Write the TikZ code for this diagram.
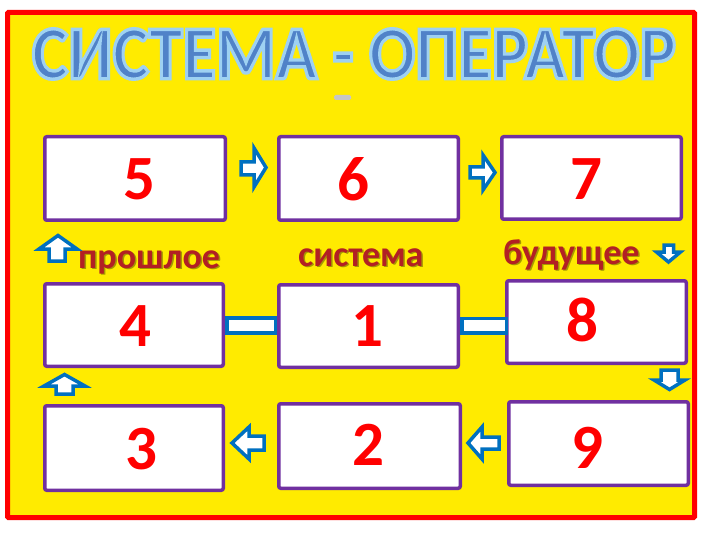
\documentclass[tikz,border=0pt]{standalone}
\usepackage{fontspec}
\usepackage{graphicx}
\setmainfont{Carlito}
\usetikzlibrary{calc}
\definecolor{bgyellow}{RGB}{255,235,0}
\definecolor{framered}{RGB}{255,0,0}
\definecolor{boxpurple}{RGB}{112,48,160}
\definecolor{arrowblue}{RGB}{0,112,192}
\definecolor{titleblue}{RGB}{80,130,200}
\definecolor{labelred}{RGB}{178,32,36}
\definecolor{numred}{RGB}{255,0,0}
\newcommand\outlinedtitle{\special{pdf:literal direct 2 Tr 0.45 w 0.62 0.82 0.95 RG}\resizebox{644pt}{50pt}{\bfseries СИСТЕМА - ОПЕРАТОР}\special{pdf:literal direct 0 Tr}}
\tikzset{
  box/.style={draw=boxpurple, line width=3.5pt, fill=white, rounded corners=2pt, inner sep=0pt},
  num/.style={text=numred, font=\fontsize{63}{63}\selectfont\bfseries, inner sep=0pt},
  lbl/.style={text=labelred, font=\fontsize{36}{36}\selectfont\bfseries, inner sep=0pt},
  lblshadow/.style={text=black, opacity=0.35, font=\fontsize{36}{36}\selectfont\bfseries, inner sep=0pt},
  blockarrow/.style={draw=arrowblue, line width=3.5pt, fill=white, line join=miter},
  ttl/.style={inner sep=0pt}
}
\begin{document}
\begin{tikzpicture}[x=1pt,y=-1pt]
\useasboundingbox (0,0) rectangle (720,540);
\fill[white] (0,0) rectangle (720,540);
% frame
\draw[framered, line width=5pt, fill=bgyellow, rounded corners=1pt] (7.5,12.5) rectangle (694.5,517.5);
% title
\node[ttl, text=titleblue] (title) at (354,54) {\outlinedtitle};
\fill[gray!45, rounded corners=1.5pt] (334,95) rectangle (351,100);
% boxes
\node[box, minimum width=180.5pt, minimum height=83.5pt] (b5) at (135,178.5) {};
\node[box, minimum width=179.5pt, minimum height=83.5pt] (b6) at (368.5,178.5) {};
\node[box, minimum width=179.5pt, minimum height=82.5pt] (b7) at (591.5,178) {};
\node[box, minimum width=178.5pt, minimum height=82.5pt] (b4) at (134,325) {};
\node[box, minimum width=179.5pt, minimum height=82.5pt] (b1) at (368.5,326) {};
\node[box, minimum width=179.5pt, minimum height=82.5pt] (b8) at (596.5,322) {};
\node[box, minimum width=178.5pt, minimum height=84.5pt] (b3) at (134,448) {};
\node[box, minimum width=181.5pt, minimum height=84.5pt] (b2) at (369.5,446) {};
\node[box, minimum width=179.5pt, minimum height=83.5pt] (b9) at (598.5,443.5) {};
% numbers
\node[num] (n5) at (139,179.5) {5};
\node[num] (n6) at (353,179.5) {6};
\node[num] (n7) at (586.5,179) {7};
\node[num] (n4) at (135,326.5) {4};
\node[num] (n1) at (367,326.5) {1};
\node[num] (n8) at (582.5,320) {8};
\node[num] (n3) at (141.5,449) {3};
\node[num] (n2) at (368.5,445) {2};
\node[num] (n9) at (587,448) {9};
% labels
\node[lblshadow, anchor=base west] (lps) at (79.5,269.5) {прошлое};
\node[lbl, anchor=base west] (lp) at (78,268) {прошлое};
\node[lblshadow, anchor=base west] (lss) at (299.5,267.5) {система};
\node[lbl, anchor=base west] (ls) at (298,266) {система};
\node[lblshadow, anchor=base west] (lbs) at (504.5,265.5) {будущее};
\node[lbl, anchor=base west] (lb) at (503,264) {будущее};
% bars
\draw[blockarrow] ($(b4.east)+(1.75,-7)$) rectangle ($(b1.west |- b4.east)+(-1.75,8)$);
\draw[blockarrow] ($(b1.east)+(1.75,-7.5)$) rectangle ($(b8.west |- b1.east)+(1.5,7)$);
% block arrows
\draw[blockarrow] (241,162) -- (254,162) -- (254,148) -- (266,167.5) -- (254,187) -- (254,175) -- (241,175) -- cycle;
\draw[blockarrow] (470,167) -- (483,167) -- (483,155) -- (495,172.5) -- (483,190) -- (483,178) -- (470,178) -- cycle;
\draw[blockarrow] (49,261) -- (49,249) -- (39,249) -- (58,235.5) -- (77,249) -- (65,249) -- (65,261) -- cycle;
\draw[blockarrow] (664,245) -- (673.5,245) -- (673.5,252) -- (680.5,252) -- (668.5,262) -- (656.5,252) -- (664,252) -- cycle;
\draw[blockarrow] (661,370) -- (678,370) -- (678,380) -- (685,380) -- (669.5,389.5) -- (654,380) -- (661,380) -- cycle;
\draw[blockarrow] (56,394) -- (56,386) -- (44,386) -- (64.5,374.5) -- (85,386) -- (73,386) -- (73,394) -- cycle;
\draw[blockarrow] (264,436) -- (249,436) -- (249,427) -- (232,443) -- (249,459) -- (249,450) -- (264,450) -- cycle;
\draw[blockarrow] (499,437) -- (482,437) -- (482,427) -- (468,443) -- (482,459) -- (482,449) -- (499,449) -- cycle;
\end{tikzpicture}
\end{document}
